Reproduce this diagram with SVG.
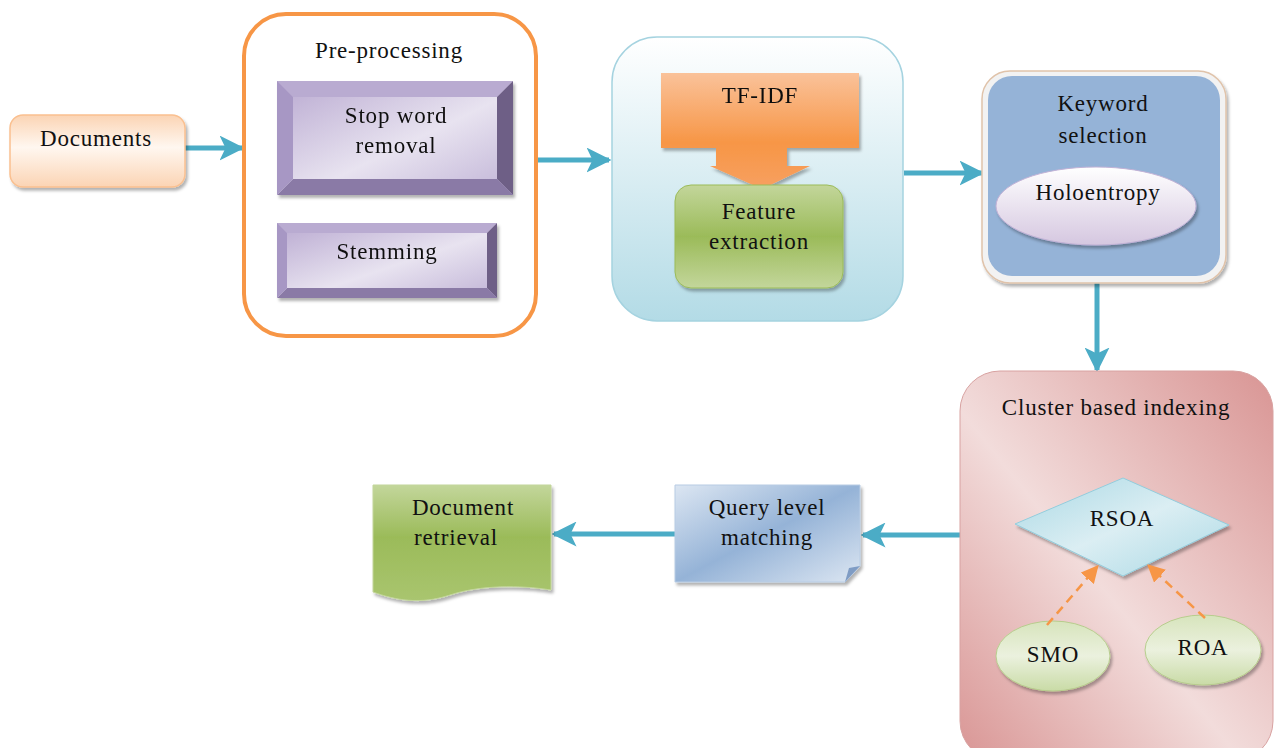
<svg xmlns="http://www.w3.org/2000/svg" width="1276" height="748" viewBox="0 0 1276 748">
  <defs>
    <style>
      text { font-family: "Liberation Serif", "Times New Roman", serif; font-size: 23px; letter-spacing: 0.8px; fill: #111; text-anchor: middle; }
      .flow { stroke: #4bacc6; stroke-width: 5; fill: none; }
      .dash { stroke: #f79646; stroke-width: 2.5; fill: none; stroke-dasharray: 9 6; }
    </style>
    <linearGradient id="gPeach" x1="0" y1="0" x2="0" y2="1">
      <stop offset="0" stop-color="#fbd4b4"/>
      <stop offset="0.45" stop-color="#fff7f0"/>
      <stop offset="1" stop-color="#fbd4b4"/>
    </linearGradient>
    <linearGradient id="gPurple" x1="0" y1="0" x2="1" y2="1">
      <stop offset="0" stop-color="#b8a8d0"/>
      <stop offset="0.55" stop-color="#e8e3f0"/>
      <stop offset="1" stop-color="#c0b3d6"/>
    </linearGradient>
    <linearGradient id="gSky" x1="0" y1="0" x2="0" y2="1">
      <stop offset="0" stop-color="#ffffff"/>
      <stop offset="1" stop-color="#b3dbe6"/>
    </linearGradient>
    <linearGradient id="gOrange" x1="0" y1="0" x2="0" y2="1">
      <stop offset="0" stop-color="#fac29a"/>
      <stop offset="0.6" stop-color="#f79646"/>
      <stop offset="1" stop-color="#f7a061"/>
    </linearGradient>
    <linearGradient id="gGreen" x1="0" y1="0" x2="0" y2="1">
      <stop offset="0" stop-color="#c3d69b"/>
      <stop offset="0.5" stop-color="#9bbb59"/>
      <stop offset="1" stop-color="#c3d69b"/>
    </linearGradient>
    <linearGradient id="gGreen2" x1="0" y1="0" x2="0" y2="1">
      <stop offset="0" stop-color="#c3d69b"/>
      <stop offset="0.45" stop-color="#9bbb59"/>
      <stop offset="1" stop-color="#a9c56f"/>
    </linearGradient>
    <linearGradient id="gLilac" x1="0" y1="0" x2="0" y2="1">
      <stop offset="0" stop-color="#ffffff"/>
      <stop offset="1" stop-color="#d5c7e0"/>
    </linearGradient>
    <linearGradient id="gPink" x1="0" y1="1" x2="1" y2="0">
      <stop offset="0" stop-color="#d99594"/>
      <stop offset="0.45" stop-color="#f2dcdb"/>
      <stop offset="1" stop-color="#d99594"/>
    </linearGradient>
    <linearGradient id="gIce" x1="0" y1="0" x2="1" y2="1">
      <stop offset="0" stop-color="#a9d8e4"/>
      <stop offset="0.5" stop-color="#dbeef3"/>
      <stop offset="1" stop-color="#a9d8e4"/>
    </linearGradient>
    <linearGradient id="gMint" x1="0" y1="0" x2="0" y2="1">
      <stop offset="0" stop-color="#d7e4bc"/>
      <stop offset="0.5" stop-color="#ebf1de"/>
      <stop offset="1" stop-color="#c9dba6"/>
    </linearGradient>
    <linearGradient id="gSteel" x1="0" y1="0" x2="1" y2="1">
      <stop offset="0" stop-color="#dce6f2"/>
      <stop offset="0.5" stop-color="#95b3d7"/>
      <stop offset="1" stop-color="#dce6f2"/>
    </linearGradient>
    <filter id="shadow" x="-10%" y="-10%" width="125%" height="125%">
      <feDropShadow dx="2" dy="3" stdDeviation="1.5" flood-color="#000" flood-opacity="0.3"/>
    </filter>
    <marker id="headBlue" markerWidth="5" markerHeight="5" refX="4.5" refY="2.5" orient="auto" markerUnits="strokeWidth">
      <path d="M0,0 L5,2.5 L0,5 L1.2,2.5 Z" fill="#4bacc6"/>
    </marker>
    <marker id="headOrange" markerWidth="7" markerHeight="7" refX="6" refY="3.5" orient="auto" markerUnits="strokeWidth">
      <path d="M0,0 L7,3.5 L0,7 Z" fill="#f79646"/>
    </marker>
  </defs>

  <rect width="1276" height="748" fill="#ffffff"/>

  <!-- flow connectors -->
  <g id="connectors">
    <line class="flow" x1="185" y1="148" x2="242" y2="148" marker-end="url(#headBlue)"/>
    <line class="flow" x1="537" y1="160" x2="609" y2="160" marker-end="url(#headBlue)"/>
    <line class="flow" x1="904" y1="173" x2="982" y2="173" marker-end="url(#headBlue)"/>
    <line class="flow" x1="1097" y1="283" x2="1097" y2="370" marker-end="url(#headBlue)"/>
    <line class="flow" x1="960" y1="535" x2="863" y2="535" marker-end="url(#headBlue)"/>
    <line class="flow" x1="675" y1="534" x2="554" y2="534" marker-end="url(#headBlue)"/>
  </g>

  <!-- input documents -->
  <g id="documents">
    <rect x="10" y="115" width="175" height="72" rx="13" fill="url(#gPeach)" stroke="#fac090" stroke-width="1.5" filter="url(#shadow)"/>
    <text x="96" y="146">Documents</text>
  </g>

  <!-- pre-processing stage -->
  <g id="preprocessing">
    <rect x="244" y="14" width="292" height="322" rx="42" fill="#ffffff" stroke="#f79646" stroke-width="4"/>
    <text x="389" y="58">Pre-processing</text>
  </g>

  <g id="stopword" filter="url(#shadow)">
    <rect x="277" y="81" width="236" height="114" fill="url(#gPurple)"/>
    <polygon points="277,81 513,81 497,97 293,97" fill="#b9abd1"/>
    <polygon points="513,81 513,195 497,179 497,97" fill="#6e5f86"/>
    <polygon points="277,195 513,195 497,179 293,179" fill="#8a7aa6"/>
    <polygon points="277,81 293,97 293,179 277,195" fill="#a797c4"/>
    <text x="396" y="123">Stop word</text>
    <text x="396" y="153">removal</text>
  </g>

  <g id="stemming" filter="url(#shadow)">
    <rect x="277" y="223" width="220" height="75" fill="url(#gPurple)"/>
    <polygon points="277,223 497,223 487,233 287,233" fill="#b9abd1"/>
    <polygon points="497,223 497,298 487,288 487,233" fill="#6e5f86"/>
    <polygon points="277,298 497,298 487,288 287,288" fill="#8a7aa6"/>
    <polygon points="277,223 287,233 287,288 277,298" fill="#a797c4"/>
    <text x="387" y="259">Stemming</text>
  </g>

  <!-- feature extraction stage -->
  <g id="tfidf-stage">
    <rect x="612" y="37" width="291" height="284" rx="45" fill="url(#gSky)" stroke="#a5d3e0" stroke-width="1.5"/>
  </g>

  <g id="tfidf" filter="url(#shadow)">
    <path d="M661,73 H859 V148 H787 V166 H810 L762,189 L710,166 H716 V148 H661 Z" fill="url(#gOrange)"/>
    <text x="760" y="103">TF-IDF</text>
  </g>

  <g id="feature-extraction">
    <rect x="675" y="185" width="168" height="103" rx="16" fill="url(#gGreen)" stroke="#9bbb59" stroke-width="1" filter="url(#shadow)"/>
    <text x="759" y="219">Feature</text>
    <text x="759" y="249">extraction</text>
  </g>

  <!-- keyword selection stage -->
  <g id="keyword-selection">
    <rect x="982" y="71" width="244" height="212" rx="28" fill="#f2f2f2" stroke="#e0c3aa" stroke-width="1.5" filter="url(#shadow)"/>
    <rect x="988" y="76" width="232" height="200" rx="24" fill="#95b3d7"/>
    <text x="1103" y="111">Keyword</text>
    <text x="1103" y="143">selection</text>
  </g>

  <g id="holoentropy">
    <ellipse cx="1096" cy="206" rx="100" ry="39" fill="url(#gLilac)" stroke="#c2b2d6" stroke-width="1" filter="url(#shadow)"/>
    <text x="1098" y="200">Holoentropy</text>
  </g>

  <!-- cluster based indexing stage -->
  <g id="cluster-indexing">
    <rect x="960" y="371" width="313" height="390" rx="40" fill="url(#gPink)" stroke="#d8a2a1" stroke-width="1"/>
    <text x="1116" y="415">Cluster based indexing</text>
  </g>

  <g id="rsoa">
    <polygon points="1015,524 1123,478 1229,525 1123,576" fill="url(#gIce)" stroke="#93cddd" stroke-width="1" filter="url(#shadow)"/>
    <text x="1122" y="526">RSOA</text>
  </g>

  <g id="smo">
    <ellipse cx="1053" cy="656" rx="57" ry="35" fill="url(#gMint)" stroke="#b7cd8d" stroke-width="1" filter="url(#shadow)"/>
    <text x="1053" y="662">SMO</text>
  </g>

  <g id="roa">
    <ellipse cx="1203" cy="650" rx="58" ry="35" fill="url(#gMint)" stroke="#b7cd8d" stroke-width="1" filter="url(#shadow)"/>
    <text x="1203" y="655">ROA</text>
  </g>

  <g id="cluster-links">
    <line class="dash" x1="1047" y1="625" x2="1097" y2="567" marker-end="url(#headOrange)"/>
    <line class="dash" x1="1205" y1="618" x2="1149" y2="566" marker-end="url(#headOrange)"/>
  </g>

  <!-- query matching and retrieval -->
  <g id="query-matching">
    <path d="M675,485 H860 V566 L845,582 H675 Z" fill="url(#gSteel)" stroke="#b8cce4" stroke-width="1" filter="url(#shadow)"/>
    <path d="M860,566 L845,582 L849,568 Z" fill="#7f9cc4"/>
    <text x="767" y="515">Query level</text>
    <text x="767" y="545">matching</text>
  </g>

  <g id="document-retrieval">
    <path d="M373,485 H551 V590 C520,585 480,585 450,595 C420,605 395,600 373,592 Z" fill="url(#gGreen2)" stroke="#c3d69b" stroke-width="1" filter="url(#shadow)"/>
    <text x="463" y="515">Document</text>
    <text x="456" y="545">retrieval</text>
  </g>
</svg>
